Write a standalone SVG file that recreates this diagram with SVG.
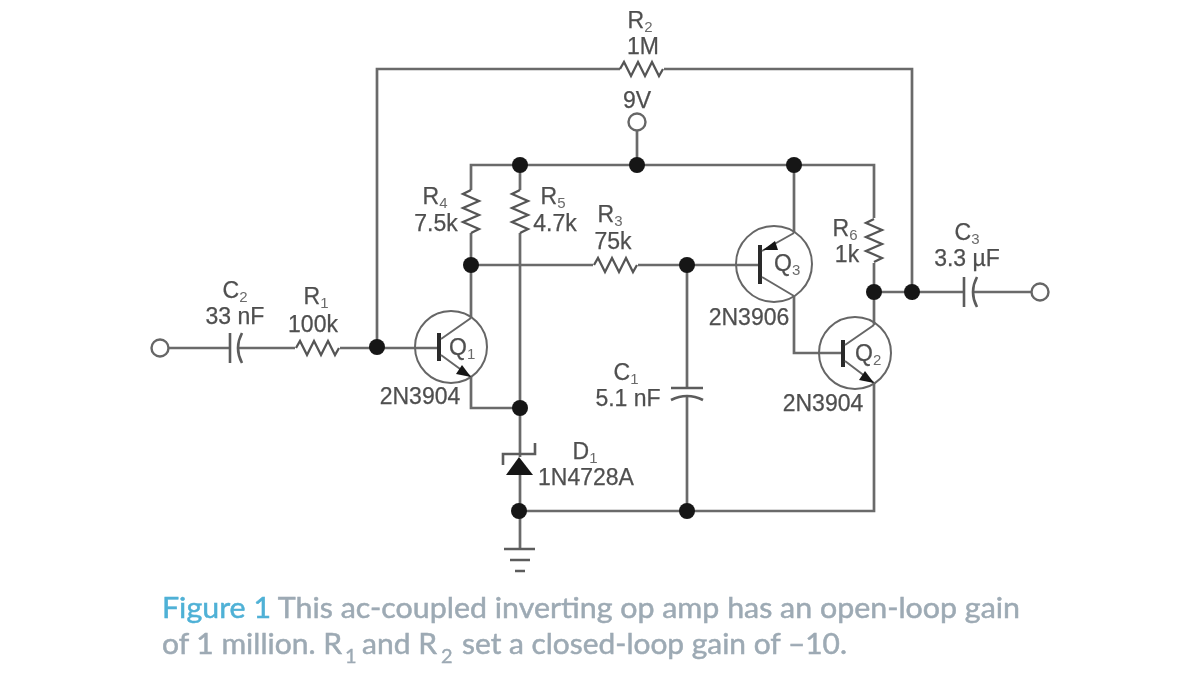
<svg xmlns="http://www.w3.org/2000/svg" width="1200" height="675" viewBox="0 0 1200 675">
<style>
.w{fill:none;stroke:#6a6a6a;stroke-width:2.7}
.t{fill:none;stroke:#666;stroke-width:2}
.p{fill:none;stroke:#5c5c5c;stroke-width:2.6}
.d{fill:#161616}
.o{fill:#fff;stroke:#666;stroke-width:2.4}
.b{fill:none;stroke:#2c2c2c;stroke-width:4}
text{font-family:"Liberation Sans",Arial,sans-serif;font-size:23px;fill:#4f4f4f;stroke:#4f4f4f;stroke-width:0.25}
.s{font-size:15px;fill:#6a6a6a;stroke:none}
.cap{font-family:Lato,"Open Sans",sans-serif;font-size:29.5px;fill:#9daab4;stroke:#9daab4;stroke-width:0.5}
.cap2{font-family:Lato,"Open Sans",sans-serif;font-size:20px;fill:#9daab4;stroke:#9daab4;stroke-width:0.4}
</style>
<defs>
<filter id="soft" x="-2%" y="-2%" width="104%" height="104%"><feGaussianBlur stdDeviation="0.6"/></filter>
<path id="rh" d="M0 0l4 -7l7 14l7 -14l7 14l7 -14l7 14l4 -7" fill="none" stroke="#555" stroke-width="2.3"/>
<path id="rv" d="M0 0l-8 4l16 7l-16 7l16 7l-16 7l16 7l-8 4" fill="none" stroke="#555" stroke-width="2.3"/>
<circle id="dot" r="8" class="d"/>
</defs>
<rect width="1200" height="675" fill="#fff"/>
<g filter="url(#soft)">
<g id="connectors">
<path class="w" d="M169 348H230M238 348H295M340 348H439"/>
<path class="w" d="M377 347V69H620M664 69H912V292"/>
<path class="w" d="M637 131V165"/>
<path class="w" d="M471 190V165H874V218"/>
<path class="w" d="M471 233V318M520 165V190M520 233V457M520 475V549"/>
<path class="w" d="M471 265H593M638 265H760"/>
<path class="w" d="M471 377V408H520"/>
<path class="w" d="M794 165V233M794 296V353H843"/>
<path class="w" d="M874 263V325M874 383V511H519"/>
<path class="w" d="M687 265V388M687 397V511"/>
<path class="w" d="M874 292H964M973 292H1031"/>
</g>
<g id="R1"><use href="#rh" x="296" y="348"/><text x="316" y="304" text-anchor="middle">R<tspan class="s" dy="4">1</tspan></text><text x="313" y="332" text-anchor="middle">100k</text></g>
<g id="R2"><use href="#rh" x="620" y="69"/><text x="640" y="28" text-anchor="middle">R<tspan class="s" dy="4">2</tspan></text><text x="643" y="54" text-anchor="middle">1M</text></g>
<g id="R3"><use href="#rh" x="594" y="265"/><text x="610" y="222" text-anchor="middle">R<tspan class="s" dy="4">3</tspan></text><text x="613" y="249" text-anchor="middle">75k</text></g>
<g id="R4"><use href="#rv" x="471" y="190"/><text x="435" y="204" text-anchor="middle">R<tspan class="s" dy="4">4</tspan></text><text x="436" y="231" text-anchor="middle">7.5k</text></g>
<g id="R5"><use href="#rv" x="520" y="190"/><text x="553" y="204" text-anchor="middle">R<tspan class="s" dy="4">5</tspan></text><text x="555" y="231" text-anchor="middle">4.7k</text></g>
<g id="R6"><use href="#rv" x="874" y="219"/><text x="845" y="236" text-anchor="middle">R<tspan class="s" dy="4">6</tspan></text><text x="847" y="262" text-anchor="middle">1k</text></g>
<g id="C1"><path class="p" d="M671 388H703M671 400Q687 392 703 400"/><text x="626" y="380" text-anchor="middle">C<tspan class="s" dy="4">1</tspan></text><text x="628" y="406" text-anchor="middle">5.1 nF</text></g>
<g id="C2"><path class="p" d="M230 333V363M242 333Q234 348 242 363"/><text x="235" y="298" text-anchor="middle">C<tspan class="s" dy="4">2</tspan></text><text x="235" y="324" text-anchor="middle">33 nF</text></g>
<g id="C3"><path class="p" d="M964 277V307M977 277Q969 292 977 307"/><text x="967" y="240" text-anchor="middle">C<tspan class="s" dy="4">3</tspan></text><text x="967" y="266" text-anchor="middle">3.3 µF</text></g>
<g id="Q1"><circle class="t" cx="451" cy="347" r="36"/><path class="b" d="M439 333V361"/><path class="t" d="M441 339L471 318M441 355L471 377"/><path class="d" d="M471 377L456 374L462 365Z"/><text x="449" y="355">Q<tspan class="s" dy="4">1</tspan></text><text x="420" y="404" text-anchor="middle">2N3904</text></g>
<g id="Q2"><circle class="t" cx="855" cy="353" r="36"/><path class="b" d="M843 340V367"/><path class="t" d="M845 345L874 325M845 361L874 383"/><path class="d" d="M874 383L859 380L865 371Z"/><text x="855" y="361">Q<tspan class="s" dy="4">2</tspan></text><text x="823" y="411" text-anchor="middle">2N3904</text></g>
<g id="Q3"><circle class="t" cx="774" cy="264" r="38"/><path class="b" d="M760 245V284"/><path class="t" d="M762 251L794 233M762 277L794 296"/><path class="d" d="M763 250L775 241L778 250Z"/><text x="774" y="271">Q<tspan class="s" dy="4">3</tspan></text><text x="749" y="325" text-anchor="middle">2N3906</text></g>
<g id="D1"><path class="d" d="M519 457L533 475H506Z"/><path class="p" d="M503 465V454H535V443"/><text x="585" y="459" text-anchor="middle">D<tspan class="s" dy="4">1</tspan></text><text x="586" y="485" text-anchor="middle">1N4728A</text></g>
<g id="GND"><path class="p" d="M504 549H535M510 560H530M515 571H525"/></g>
<g id="IN"><circle class="o" cx="160" cy="348" r="8.5"/></g>
<g id="OUT"><circle class="o" cx="1040" cy="292" r="8.5"/></g>
<g id="VCC"><circle class="o" cx="637" cy="122" r="8.5"/><text x="637" y="108" text-anchor="middle">9V</text></g>
<g id="junctions">
<use href="#dot" x="377" y="347"/><use href="#dot" x="520" y="165"/><use href="#dot" x="637" y="165"/><use href="#dot" x="794" y="165"/><use href="#dot" x="471" y="265"/><use href="#dot" x="687" y="265"/><use href="#dot" x="520" y="408"/><use href="#dot" x="519" y="511"/><use href="#dot" x="687" y="511"/><use href="#dot" x="874" y="292"/><use href="#dot" x="912" y="292"/>
</g>
<g id="caption">
<text class="cap" x="162" y="618" textLength="858" lengthAdjust="spacingAndGlyphs"><tspan style="fill:#4fb1d6;stroke:#4fb1d6">Figure 1</tspan> This ac-coupled inverting op amp has an open-loop gain</text>
<text class="cap" x="162" y="654" textLength="180" lengthAdjust="spacingAndGlyphs">of 1 million. R</text>
<text class="cap2" x="345" y="663">1</text>
<text class="cap" x="362" y="654" textLength="75" lengthAdjust="spacingAndGlyphs">and R</text>
<text class="cap2" x="441" y="663">2</text>
<text class="cap" x="462" y="654" textLength="385" lengthAdjust="spacingAndGlyphs">set a closed-loop gain of –10.</text>
</g>
</g>
</svg>
